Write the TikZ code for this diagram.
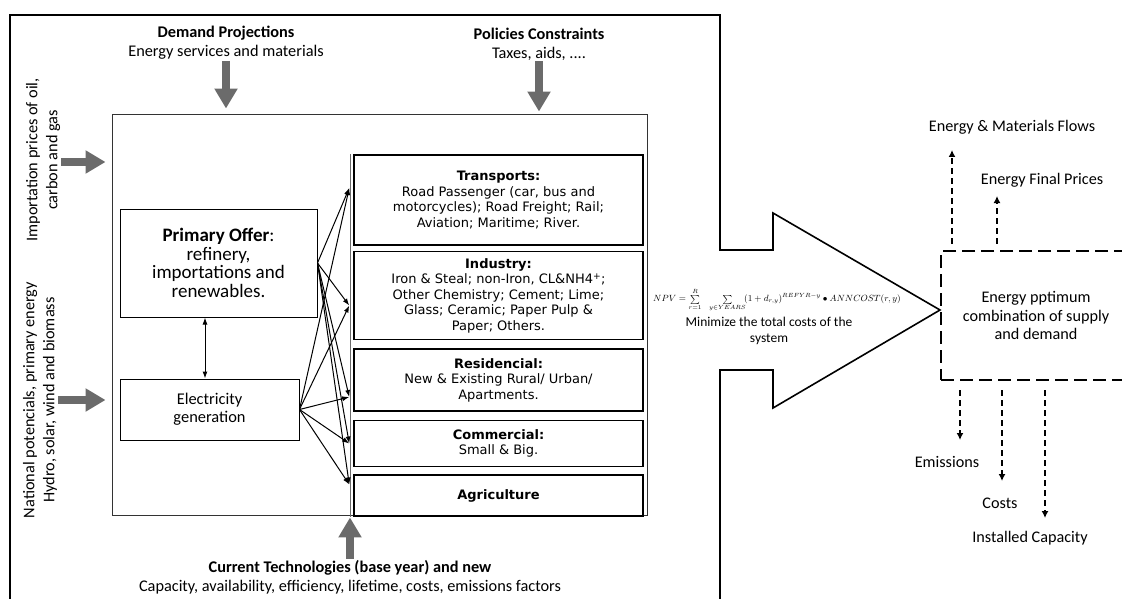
\documentclass[tikz,border=0pt]{standalone}
\usepackage{amsmath,amssymb}
\usepackage{fontspec}
\setmainfont{Carlito}
\newfontfamily\verdana{DejaVu Sans}
\usetikzlibrary{positioning,arrows,arrows.meta,calc}
\definecolor{arrowgray}{HTML}{6B6B6B}
\tikzset{
  basic/.style    = {draw, align=center, inner sep=0pt},
  sector/.style   = {basic, line width=1.5pt, minimum width=289pt, font=\verdana\fontsize{13}{15.5}\selectfont},
  offer/.style    = {basic, line width=1pt},
  frame/.style    = {draw=black!80, line width=0.9pt, inner sep=0pt},
  outline/.style  = {draw, line width=1.6pt, line join=miter},
  caption/.style  = {align=center, inner sep=1pt, font=\fontsize{16.3}{19}\selectfont},
  result/.style   = {caption, font=\fontsize{16.2}{18.5}\selectfont},
  bigarrow/.style = {draw=arrowgray, line width=8pt, -{Triangle[length=20pt,width=22pt]}},
  feed/.style     = {line width=1pt, -{Latex[length=7pt,width=5pt]}},
  dasharrow/.style= {draw, line width=1.5pt, dash pattern=on 6pt off 4pt, -{Latex[length=7pt,width=7pt]}},
  dashbox/.style  = {draw, line width=2.6pt, dash pattern=on 13pt off 6pt, inner sep=0pt, align=center}
}
\begin{document}
\begin{tikzpicture}[x=1pt, y=-1pt, >=latex]
    \useasboundingbox (0,0) rectangle (1122,599);
    % outer frame and big arrow
    \draw[outline] (10,610) -- (10,15) -- (720,15) -- (720,250) -- (773,250) -- (773,213)
        -- (940,310) -- (773,408) -- (773,370) -- (720,370) -- (720,610);

    % inputs
    \node[caption] (demand) at (226,43) {\textbf{Demand Projections}\\Energy services and materials};
    \node[caption] (policy) at (539,44) {\textbf{Policies Constraints}\\Taxes, aids, ....};
    \node[caption, rotate=90, font=\fontsize{16.3}{20}\selectfont] (import) at (43,160) {Importation prices of oil,\\carbon and gas};
    \node[caption, rotate=90, font=\fontsize{16.3}{20}\selectfont] (nation) at (40,400) {National potencials, primary energy\\Hydro, solar, wind and biomass};
    \node[caption] (techno) at (350,577) {\textbf{Current Technologies (base year) and new}\\Capacity, availability, efficiency, lifetime, costs, emissions factors};

    % model box
    \node[frame, minimum width=535pt, minimum height=401pt] (inner) at (379.5,314.5) {};
    \node[offer, minimum width=197pt, minimum height=108pt, font=\fontsize{19}{18.5}\selectfont]
        (offer) at (218.5,263) {\textbf{Primary Offer}:\\refinery,\\importations and\\renewables.};
    \node[offer, minimum width=179pt, minimum height=61pt, font=\fontsize{16.4}{18}\selectfont]
        (elec) at (209.5,409.5) {Electricity\\generation};

    \node[sector, minimum height=90pt] (transp) at (498.5,200)
        {\textbf{Transports:}\\Road Passenger (car, bus and\\motorcycles); Road Freight; Rail;\\Aviation; Maritime; River.};
    \node[sector, minimum height=88pt, below=5pt of transp] (indus)
        {\textbf{Industry:}\\Iron \& Steal; non-Iron, CL\&NH4\textsuperscript{+};\\Other Chemistry; Cement; Lime;\\Glass; Ceramic; Paper Pulp \&\\Paper; Others.};
    \node[sector, minimum height=62pt, below=8pt of indus] (resid)
        {\textbf{Residencial:}\\New \& Existing Rural/ Urban/\\Apartments.};
    \node[sector, minimum height=46pt, below=8pt of resid] (comm)
        {\textbf{Commercial:}\\Small \& Big.};
    \node[sector, minimum height=41pt, below=7pt of comm] (agri) {\textbf{Agriculture}};
    \draw[arrowgray, line width=1pt] ([xshift=-3pt]transp.north west) -- ([xshift=-3pt]agri.south west);

    % flows to the sectors
    \foreach \src in {offer, elec} {
        \draw[feed] (\src.east) -- ([xshift=-4pt, yshift=12pt]transp.west);
        \draw[feed] (\src.east) -- ([xshift=-4pt, yshift=-10pt]indus.west);
        \draw[feed] (\src.east) -- ([xshift=-4pt, yshift=-17pt]resid.west);
        \draw[feed] (\src.east) -- ([xshift=-4pt]comm.west);
        \draw[feed] (\src.east) -- ([xshift=-4pt, yshift=11pt]agri.west);
    }
    \draw[feed, {Latex[length=7pt,width=5pt]}-{Latex[length=7pt,width=5pt]}]
        ([xshift=-4.5pt]elec.north) -- ([xshift=-4.5pt]elec.north |- offer.south);

    % gray input arrows
    \draw[bigarrow] (demand.south) -- ([yshift=5pt]demand.south |- inner.north);
    \draw[bigarrow] (policy.south) -- ([yshift=2pt]policy.south |- inner.north);
    \draw[bigarrow] ([yshift=-2pt]import.south) -- ([xshift=-6pt,yshift=-2pt]import.south -| inner.west);
    \draw[bigarrow] (nation.south) -- ([xshift=-6pt]nation.south -| inner.west);
    \draw[bigarrow] (techno.north) -- ([yshift=-2pt]techno.north |- inner.south);

    % objective
    \node[inner sep=0pt, font=\fontsize{9}{10}\selectfont] (npv) at (777,300)
        {$NPV=\sum\limits_{r=1}^{R}\ \ \ \sum\limits_{y\in YEARS}\!(1+d_{r,y})^{REFYR-y}\bullet ANNCOST(r,y)$};
    \node[caption, inner sep=0pt, font=\fontsize{13.5}{16}\selectfont] (minim) at (769,331) {Minimize the total costs of the\\system};

    % results
    \node[dashbox, minimum width=190pt, minimum height=129pt, font=\fontsize{16.2}{18.5}\selectfont] (opt) at (1036,315.5)
        {Energy pptimum\\combination of supply\\and demand};
    \node[result] (flows)  at (1012,127) {Energy \& Materials Flows};
    \node[result] (prices) at (1042,180) {Energy Final Prices};
    \node[result] (emis)   at (947,462) {Emissions};
    \node[result] (costs)  at (1000,503) {Costs};
    \node[result] (instal) at (1030,538) {Installed Capacity};
    \coordinate (fl) at (952,150);
    \coordinate (pr) at (997,196);
    \coordinate (em) at (960,440);
    \coordinate (co) at (1002,481);
    \coordinate (ic) at (1045,518);
    \draw[dasharrow, shorten <=6pt] (opt.north -| fl) -- (fl);
    \draw[dasharrow, shorten <=6pt] (opt.north -| pr) -- (pr);
    \draw[dasharrow, shorten <=9pt] (opt.south -| em) -- (em);
    \draw[dasharrow, shorten <=9pt] (opt.south -| co) -- (co);
    \draw[dasharrow, shorten <=9pt] (opt.south -| ic) -- (ic);
\end{tikzpicture}
\end{document}
